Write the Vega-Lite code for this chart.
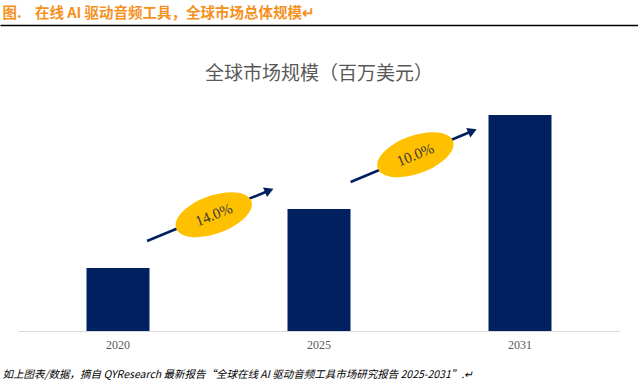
{
  "$schema": "https://vega.github.io/schema/vega-lite/v6.json",
  "autosize": {"type": "none"},
  "width": 638,
  "height": 221,
  "padding": {"left": 0, "right": 0, "top": 110, "bottom": 59},
  "background": "white",
  "title": {
    "text": "全球市场规模（百万美元）",
    "anchor": "middle",
    "frame": "group",
    "font": "Noto Sans CJK SC",
    "fontSize": 19,
    "fontWeight": "normal",
    "color": "#595959",
    "baseline": "middle",
    "offset": 0,
    "dy": 88
  },
  "datasets": {
    "bars": [
      {"year": "2020", "v": 63},
      {"year": "2025", "v": 122},
      {"year": "2031", "v": 216}
    ],
    "arrows": [
      {"i1": 0.147, "v1": 90, "i2": 0.755, "v2": 140.5, "ang": 337.6},
      {"i1": 1.160, "v1": 149, "i2": 1.766, "v2": 200, "ang": 337.2}
    ],
    "ovals": [
      {"i": 0.479, "v": 116.3, "label": "14.0%"},
      {"i": 1.482, "v": 176.3, "label": "10.0%"}
    ]
  },
  "layer": [
    {
      "data": {"name": "bars"},
      "mark": {"type": "bar", "color": "#002060"},
      "encoding": {
        "x": {
          "field": "year",
          "type": "ordinal",
          "scale": {"range": [18, 620], "paddingInner": 0.6866, "paddingOuter": 0.3408},
          "axis": {
            "title": "如上图表/数据，摘自 QYResearch 最新报告“全球在线 AI 驱动音频工具市场研究报告 2025-2031”.↵",
            "titleFont": "Noto Sans CJK SC",
            "titleFontSize": 10.5,
            "titleFontStyle": "italic",
            "titleFontWeight": "normal",
            "titleColor": "#000000",
            "titleAnchor": "start",
            "titleAlign": "left",
            "titleBaseline": "middle",
            "titleX": 2,
            "titleY": 43,
            "labelAngle": 0,
            "labelFont": "Liberation Serif",
            "labelFontSize": 12,
            "labelColor": "#595959",
            "labelPadding": 8,
            "ticks": false,
            "domainColor": "#D9D9D9",
            "domainWidth": 1
          }
        },
        "y": {
          "field": "v",
          "type": "quantitative",
          "scale": {"domain": [0, 221], "nice": false},
          "axis": null
        }
      }
    },
    {
      "layer": [
        {
          "data": {"name": "arrows"},
          "mark": {"type": "rule", "color": "#002060", "strokeWidth": 2.5},
          "encoding": {
            "x": {
              "field": "i1",
              "type": "quantitative",
              "scale": {"domain": [-0.5846, 2.5896], "nice": false, "zero": false},
              "axis": {
                "orient": "top",
                "offset": 85,
                "title": "图.\u00a0\u00a0\u00a0 在线 AI 驱动音频工具，全球市场总体规模↵",
                "titleFont": "Noto Sans CJK SC",
                "titleFontSize": 14.5,
                "titleFontWeight": "bold",
                "titleColor": "#F5921F",
                "titleAnchor": "start",
                "titleAlign": "left",
                "titleBaseline": "middle",
                "titleAngle": 0,
                "titleX": 2,
                "titleY": -12,
                "labels": false,
                "ticks": false,
                "grid": false,
                "domainColor": "#000000",
                "domainWidth": 1.5
              }
            },
            "x2": {"field": "i2"},
            "y": {"field": "v1", "type": "quantitative", "axis": null},
            "y2": {"field": "v2"}
          }
        },
        {
          "data": {"name": "arrows"},
          "mark": {"type": "point", "shape": "triangle-right", "filled": true, "color": "#002060", "size": 110, "opacity": 1},
          "encoding": {
            "x": {"field": "i2", "type": "quantitative"},
            "y": {"field": "v2", "type": "quantitative", "axis": null},
            "angle": {"field": "ang", "type": "quantitative", "scale": null}
          }
        },
        {
          "data": {"name": "ovals"},
          "mark": {"type": "point", "shape": "M -1 0 A 1 0.475 0 1 1 1 0 A 1 0.475 0 1 1 -1 0 Z", "filled": true, "color": "#FFC000", "size": 6400, "opacity": 1, "angle": 340},
          "encoding": {
            "x": {"field": "i", "type": "quantitative"},
            "y": {"field": "v", "type": "quantitative", "axis": null}
          }
        },
        {
          "data": {"name": "ovals"},
          "mark": {"type": "text", "font": "Liberation Serif", "fontSize": 15, "color": "#3A3A3A", "angle": 338, "align": "center", "baseline": "middle"},
          "encoding": {
            "x": {"field": "i", "type": "quantitative"},
            "y": {"field": "v", "type": "quantitative", "axis": null},
            "text": {"field": "label"}
          }
        }
      ]
    }
  ],
  "resolve": {"scale": {"x": "independent"}},
  "config": {"view": {"stroke": null}}
}
